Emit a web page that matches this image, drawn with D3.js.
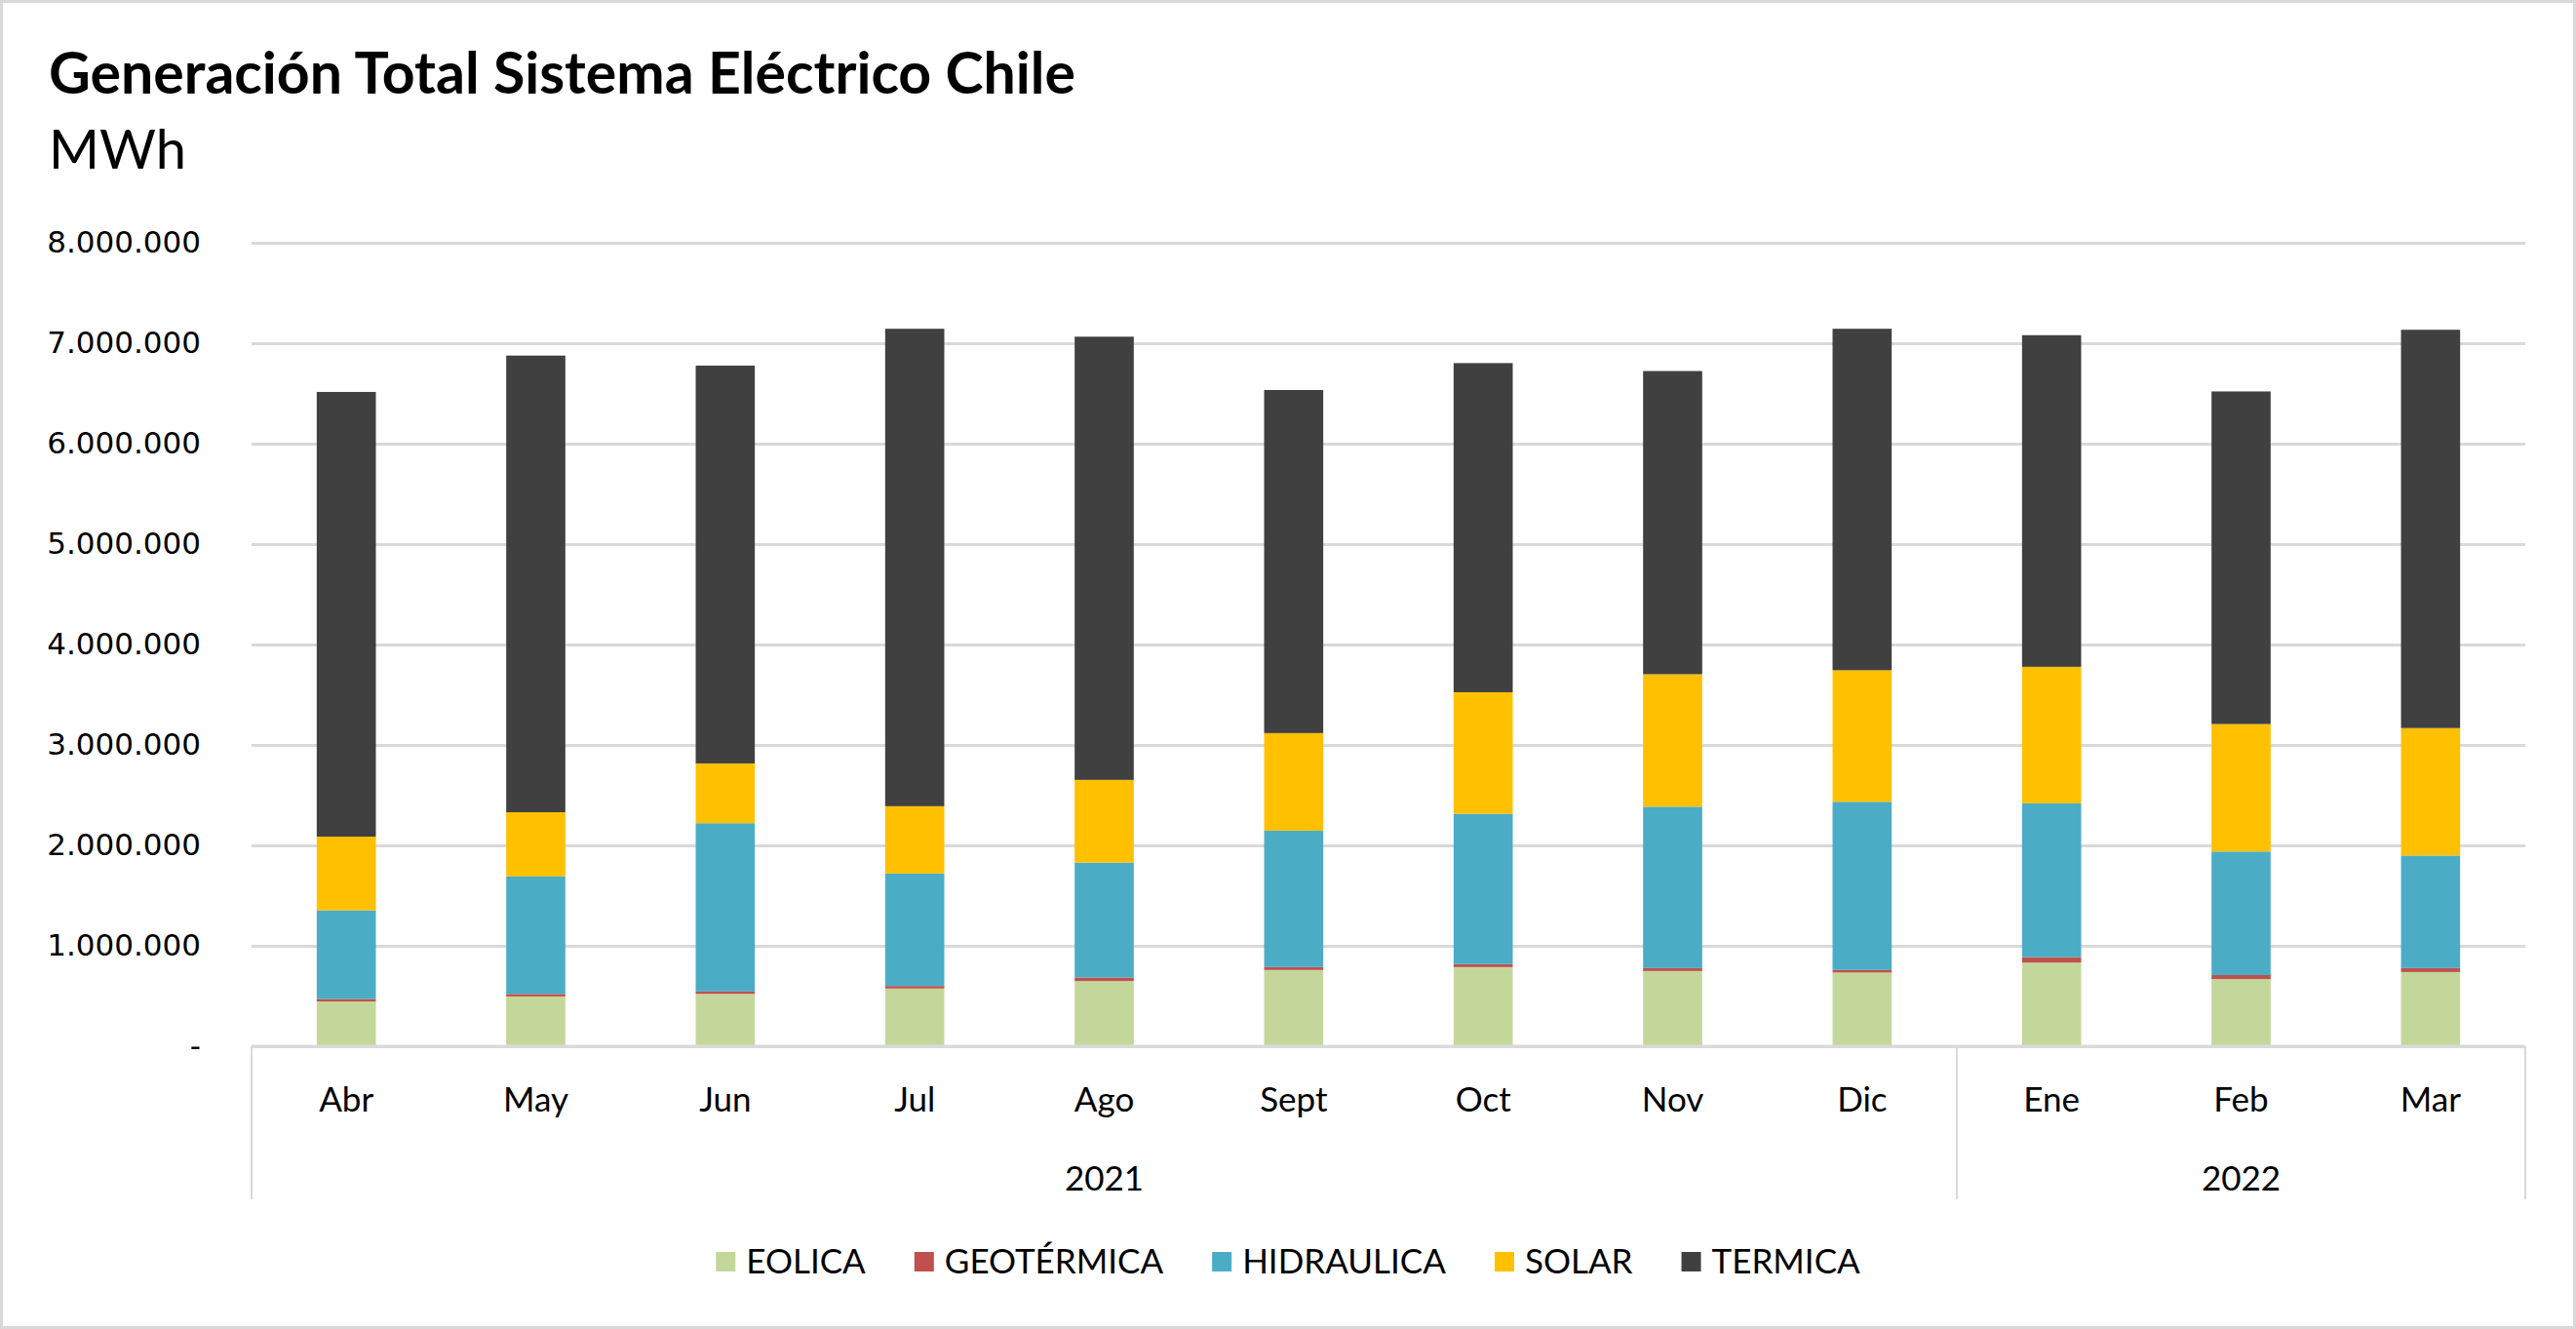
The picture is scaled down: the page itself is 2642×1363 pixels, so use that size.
<!DOCTYPE html>
<html>
<head>
<meta charset="utf-8">
<script src="https://cdn.jsdelivr.net/npm/d3@7"></script>
<style>
  body { margin: 0; background: #fff; }
  svg { display: block; }
  .cal { font-family: Lato, "Open Sans", sans-serif; }
</style>
</head>
<body>
<div id="chart"></div>
<script>
// monthly generation, MWh
const months = ["Abr", "May", "Jun", "Jul", "Ago", "Sept", "Oct", "Nov", "Dic", "Ene", "Feb", "Mar"];
const monthYear = ["2021", "2021", "2021", "2021", "2021", "2021", "2021", "2021", "2021", "2022", "2022", "2022"];
const seriesNames = ["EOLICA", "GEOTÉRMICA", "HIDRAULICA", "SOLAR", "TERMICA"];
const eolica = [446000, 496000, 521000, 575000, 649000, 759000, 788000, 749000, 734000, 833000, 669000, 739000];
const geotermica = [25000, 25000, 24000, 25000, 35000, 29000, 30000, 29000, 25000, 54000, 40000, 39000];
const hidraulica = [882000, 1170000, 1676000, 1120000, 1145000, 1359000, 1497000, 1607000, 1675000, 1532000, 1230000, 1121000];
const solar = [734000, 639000, 595000, 670000, 823000, 971000, 1210000, 1319000, 1310000, 1359000, 1269000, 1269000];
const termica = [4428000, 4547000, 3961000, 4754000, 4413000, 3416000, 3277000, 3019000, 3400000, 3302000, 3312000, 3966000];
const yTicks = [0, 1000000, 2000000, 3000000, 4000000, 5000000, 6000000, 7000000, 8000000];

const colors = ["#c4d79b", "#c0504d", "#4bacc6", "#ffc000", "#404040"];
const seriesValues = [eolica, geotermica, hidraulica, solar, termica];

const W = 2642, H = 1363;
const margin = { top: 249, right: 52, bottom: 290, left: 258 };
const width = W - margin.left - margin.right;
const height = H - margin.top - margin.bottom;

const rows = months.map((m, i) => {
  const r = { month: m };
  seriesNames.forEach((s, j) => r[s] = seriesValues[j][i]);
  return r;
});

const svg = d3.select("#chart").append("svg")
  .attr("width", W)
  .attr("height", H);

// outer frame
svg.append("rect")
  .attr("x", 1.5).attr("y", 1.5)
  .attr("width", W - 3).attr("height", H - 3)
  .attr("fill", "#fff")
  .attr("stroke", "#d9d9d9")
  .attr("stroke-width", 3);

svg.append("text")
  .attr("class", "cal")
  .attr("x", 50).attr("y", 96)
  .attr("font-size", 59)
  .attr("font-weight", "bold")
  .attr("fill", "#000")
  .text("Generación Total Sistema Eléctrico Chile");

svg.append("text")
  .attr("class", "cal")
  .attr("x", 50).attr("y", 173)
  .attr("font-size", 56)
  .attr("fill", "#000")
  .text("MWh");

const g = svg.append("g")
  .attr("transform", `translate(${margin.left}, ${margin.top})`);

const x = d3.scaleBand()
  .domain(months)
  .range([0, width]);

const y = d3.scaleLinear()
  .domain([0, 8000000])
  .range([height, 0]);

const loc = d3.formatLocale({ decimal: ",", thousands: ".", grouping: [3], currency: ["$", ""] });
const fmt = loc.format(",.0f");

// gridlines
g.append("g")
  .attr("class", "grid")
  .call(d3.axisLeft(y).tickValues(yTicks).tickSize(-width).tickFormat(""))
  .call(s => s.select(".domain").remove())
  .call(s => s.selectAll("line").attr("stroke", "#d9d9d9").attr("stroke-width", 3));

// y labels
g.append("g")
  .attr("class", "y-axis")
  .call(d3.axisLeft(y).tickValues(yTicks).tickSize(0).tickPadding(52)
    .tickFormat(d => d === 0 ? "-" : fmt(d)))
  .call(s => s.select(".domain").remove())
  .call(s => s.selectAll("text")
    .attr("font-family", "'DejaVu Sans', sans-serif")
    .attr("font-size", 31)
    .attr("fill", "#000"));

// stacked bars
const stack = d3.stack().keys(seriesNames);
const stacked = stack(rows);
const barW = x.bandwidth() * 0.312;

g.selectAll("g.layer")
  .data(stacked)
  .enter()
  .append("g")
  .attr("class", "layer")
  .attr("fill", (d, i) => colors[i])
  .selectAll("rect")
  .data(d => d)
  .enter()
  .append("rect")
  .attr("x", d => x(d.data.month) + (x.bandwidth() - barW) / 2)
  .attr("y", d => y(d[1]))
  .attr("width", barW)
  .attr("height", d => y(d[0]) - y(d[1]));

// category axis line
g.append("line")
  .attr("x1", 0).attr("x2", width)
  .attr("y1", height).attr("y2", height)
  .attr("stroke", "#d9d9d9").attr("stroke-width", 3);

// month labels
g.append("g")
  .attr("class", "x-axis")
  .attr("transform", `translate(0, ${height})`)
  .call(d3.axisBottom(x).tickSize(0).tickPadding(42))
  .call(s => s.select(".domain").remove())
  .call(s => s.selectAll("text")
    .attr("class", "cal")
    .attr("font-size", 35)
    .attr("fill", "#000"));

// year groups
const yearGroups = d3.groups(months.map((m, i) => ({ m, yr: monthYear[i] })), d => d.yr)
  .map(([yr, ms]) => ({
    yr,
    x0: x(ms[0].m),
    x1: x(ms[ms.length - 1].m) + x.bandwidth()
  }));

const sepBottom = 157;
const sepXs = [0].concat(yearGroups.map(d => d.x1));
g.selectAll("line.sep")
  .data(sepXs)
  .enter()
  .append("line")
  .attr("class", "sep")
  .attr("x1", d => d).attr("x2", d => d)
  .attr("y1", height).attr("y2", height + sepBottom)
  .attr("stroke", "#d9d9d9").attr("stroke-width", 2);

g.selectAll("text.year")
  .data(yearGroups)
  .enter()
  .append("text")
  .attr("class", "year cal")
  .attr("x", d => (d.x0 + d.x1) / 2)
  .attr("y", height + 148)
  .attr("text-anchor", "middle")
  .attr("font-size", 35)
  .attr("fill", "#000")
  .text(d => d.yr);

// legend
const legend = svg.append("g").attr("class", "legend");
const legendY = 1294;
const sw = 20, gap = 11, itemGap = 50;
let lx = 0;
seriesNames.forEach((name, i) => {
  const it = legend.append("g").attr("transform", `translate(${lx}, 0)`);
  it.append("rect")
    .attr("x", 0).attr("y", legendY - sw / 2)
    .attr("width", sw).attr("height", sw)
    .attr("fill", colors[i]);
  const t = it.append("text")
    .attr("class", "cal")
    .attr("x", sw + gap)
    .attr("y", legendY + 12)
    .attr("font-size", 35)
    .attr("fill", "#000")
    .text(name);
  lx += sw + gap + t.node().getComputedTextLength() + itemGap;
});
const legendW = lx - itemGap;
legend.attr("transform", `translate(${(W - legendW) / 2}, 0)`);
</script>
</body>
</html>
